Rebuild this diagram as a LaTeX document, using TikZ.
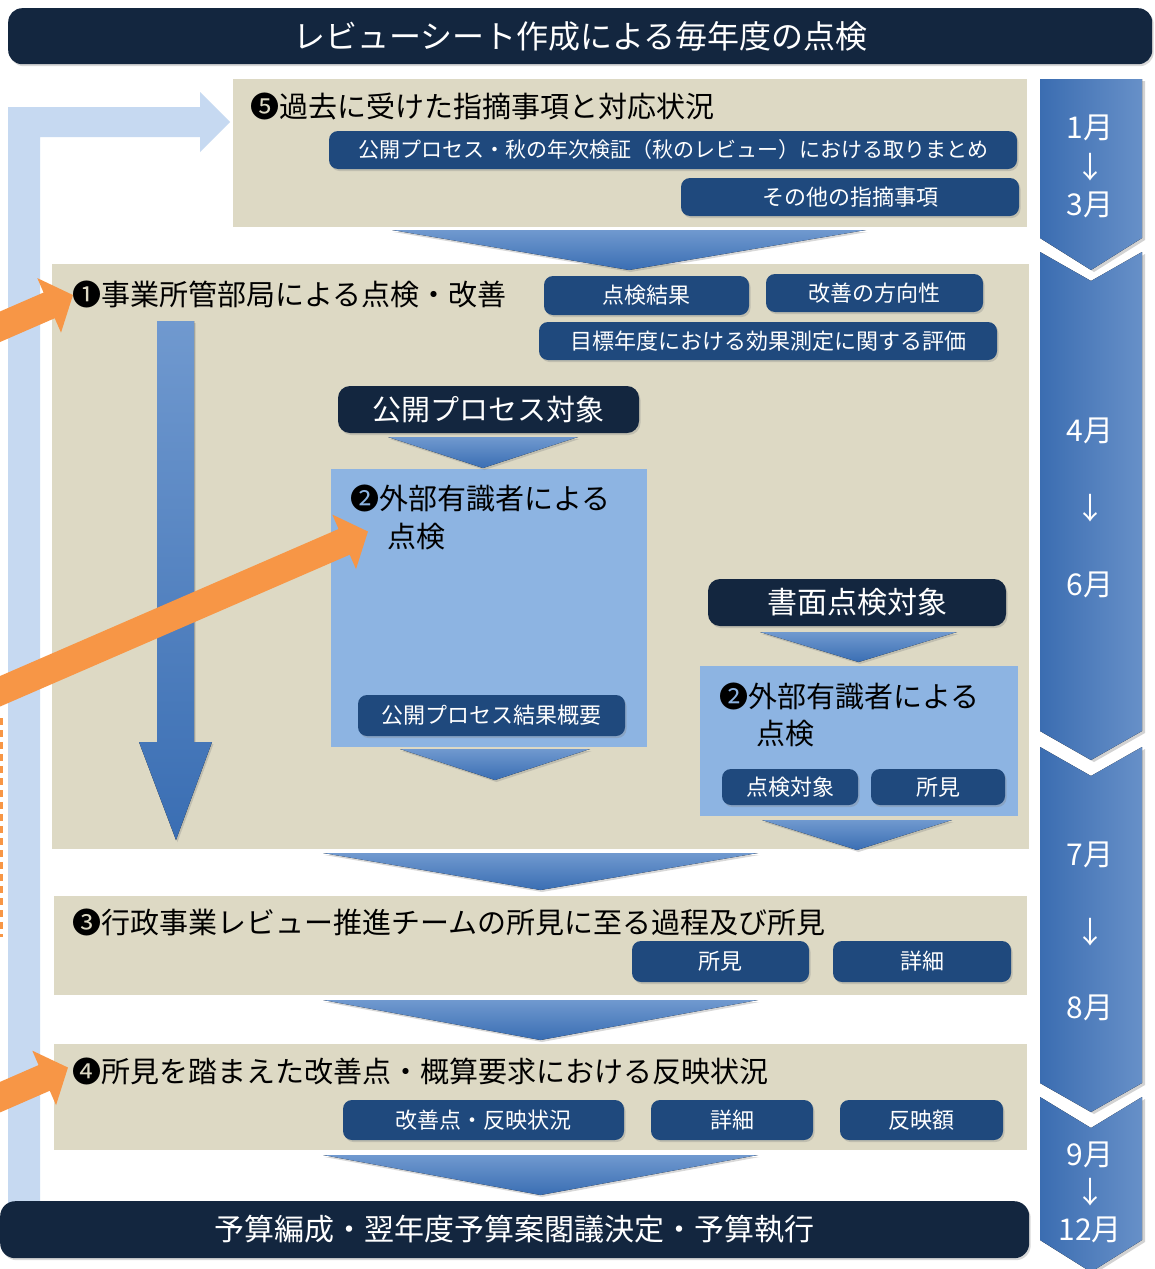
\documentclass[tikz,border=0pt]{standalone}
\usepackage{fontspec}
\setmainfont{Noto Sans CJK JP}
\usetikzlibrary{arrows.meta,shadows,calc}
\definecolor{navy}{HTML}{13263F}
\definecolor{beige}{HTML}{DDD9C4}
\definecolor{btnblue}{HTML}{1F497D}
\definecolor{lbox}{HTML}{8DB4E2}
\definecolor{lband}{HTML}{C6D9F1}
\definecolor{orng}{HTML}{F79646}
\definecolor{chtop}{HTML}{7099CF}
\definecolor{chbot}{HTML}{3A6EB3}
\definecolor{tlleft}{HTML}{3B6DB1}
\definecolor{tlright}{HTML}{6790C8}
\newcommand\myfs[1]{\fontsize{#1}{#1}\selectfont}
\newcommand\flowtri[4]{%
  \fill[flowfill] (#1,#3) -- (#2,#3) -- ({(#1+#2)/2},#4) -- cycle;}
\tikzset{
  shd/.style={drop shadow={opacity=0.3,shadow xshift=1.5pt,shadow yshift=-2pt}},
  panel/.style={fill=beige, inner sep=0pt, anchor=north west},
  lightbox/.style={fill=lbox, inner sep=0pt, anchor=north west},
  navybox/.style={fill=navy, rounded corners=12pt, text=white, inner sep=0pt, shd},
  btnbox/.style={fill=btnblue, rounded corners=9pt, text=white, inner sep=0pt, font=\myfs{22}, shd},
  ttl/.style={anchor=west, inner sep=0pt, text=black, font=\myfs{29}},
  month/.style={text=white, inner sep=0pt, font=\myfs{30}},
  flowfill/.style={top color=chtop, bottom color=chbot, shd},
  tlseg/.style={left color=tlleft, right color=tlright, drop shadow={opacity=0.35,shadow xshift=3pt,shadow yshift=-2pt}},
  orarrow/.style={draw=orng, line width=28pt, -{Triangle[length=26pt,width=58pt]}, orng},
}
\begin{document}
\begin{tikzpicture}[x=1pt,y=-1pt]
\clip (0,0) rectangle (1155,1269);
\fill[white] (0,0) rectangle (1155,1269);

% light blue feedback band
\fill[lband] (8,1205) -- (8,107) -- (200,107) -- (200,92) -- (230,122) -- (200,152) -- (200,137) -- (40,137) -- (40,1205) -- cycle;

% title bar
\node[navybox, rounded corners=14pt, anchor=north west, minimum width=1144pt, minimum height=56pt, font=\myfs{32}] (title) at (8,8) {レビューシート作成による毎年度の点検};

% timeline
\fill[tlseg] (1040,79) -- (1142,79) -- (1142,238) -- (1091,270) -- (1040,238) -- cycle;
\fill[tlseg] (1040,252) -- (1091,281) -- (1142,252) -- (1142,731) -- (1091,760) -- (1040,731) -- cycle;
\fill[tlseg] (1040,747) -- (1091,776) -- (1142,747) -- (1142,1083) -- (1091,1112) -- (1040,1083) -- cycle;
\fill[tlseg] (1040,1097) -- (1091,1128) -- (1142,1097) -- (1142,1240) -- (1091,1272) -- (1040,1240) -- cycle;
\node[month] (m1) at (1090,128) {1月};
\node[month] (m1a) at (1090,167) {↓};
\node[month] (m3) at (1090,205) {3月};
\node[month] (m4) at (1090,431) {4月};
\node[month] (m4a) at (1090,508) {↓};
\node[month] (m6) at (1090,585) {6月};
\node[month] (m7) at (1090,855) {7月};
\node[month] (m7a) at (1090,932) {↓};
\node[month] (m8) at (1090,1008) {8月};
\node[month] (m9) at (1090,1155) {9月};
\node[month] (m9a) at (1090,1192) {↓};
\node[month] (m12) at (1090,1230) {12月};

% panel 5
\node[panel, minimum width=794pt, minimum height=148pt] (p5) at (233,79) {};
\node[ttl] (t5) at (250,107) {❺過去に受けた指摘事項と対応状況};
\node[btnbox, minimum width=688pt, minimum height=38pt, font=\myfs{21}] (b51) at (673,150) {公開プロセス・秋の年次検証（秋のレビュー）における取りまとめ};
\node[btnbox, minimum width=338pt, minimum height=38pt] (b52) at (850,197) {その他の指摘事項};

% panel 1
\node[panel, minimum width=977pt, minimum height=585pt] (p1) at (52,264) {};
\flowtri{392}{866}{230}{270}
\node[ttl] (t1) at (72,294) {❶事業所管部局による点検・改善};
\node[btnbox, minimum width=205pt, minimum height=39pt] (b11) at (646.5,295.5) {点検結果};
\node[btnbox, minimum width=217pt, minimum height=38pt] (b12) at (874.5,293) {改善の方向性};
\node[btnbox, minimum width=458pt, minimum height=38pt] (b13) at (768,341) {目標年度における効果測定に関する評価};

% big blue down arrow
\fill[top color=chtop, bottom color=chbot, shd] (157,321) -- (194,321) -- (194,742) -- (212,742) -- (176,840) -- (139,742) -- (157,742) -- cycle;

% public process branch
\node[navybox, minimum width=301pt, minimum height=47pt, font=\myfs{29}] (pub) at (488.5,409.5) {公開プロセス対象};
\node[lightbox, minimum width=316pt, minimum height=278pt] (lb1) at (331,469) {};
\flowtri{388}{578}{437}{468}
\node[ttl] (t2a) at (350,498) {❷外部有識者による};
\node[ttl] (t2b) at (387,537) {点検};
\node[btnbox, minimum width=267pt, minimum height=41pt] (b2) at (491.5,715.5) {公開プロセス結果概要};
\flowtri{400}{590}{749}{780}

% document check branch
\node[navybox, minimum width=298pt, minimum height=47pt, font=\myfs{30}] (doc) at (857,602.5) {書面点検対象};
\node[lightbox, minimum width=318pt, minimum height=150pt] (lb2) at (700,666) {};
\flowtri{760}{957}{632}{662}
\node[ttl] (t2c) at (719,696) {❷外部有識者による};
\node[ttl] (t2d) at (756,734) {点検};
\node[btnbox, minimum width=136pt, minimum height=36pt] (b21) at (790,787) {点検対象};
\node[btnbox, minimum width=134pt, minimum height=36pt] (b22) at (938,787) {所見};
\flowtri{762}{952}{820}{850}

% panel 3
\flowtri{323}{758}{853}{890}
\node[panel, minimum width=973pt, minimum height=99pt] (p3) at (54,896) {};
\node[ttl] (t3) at (72,922) {❸行政事業レビュー推進チームの所見に至る過程及び所見};
\node[btnbox, minimum width=177pt, minimum height=41pt] (b31) at (720.5,961.5) {所見};
\node[btnbox, minimum width=178pt, minimum height=41pt] (b32) at (922,961.5) {詳細};

% panel 4
\flowtri{323}{758}{1000}{1040}
\node[panel, minimum width=973pt, minimum height=106pt] (p4) at (54,1044) {};
\node[ttl] (t4) at (72,1071) {❹所見を踏まえた改善点・概算要求における反映状況};
\node[btnbox, minimum width=281pt, minimum height=40pt] (b41) at (483.5,1120) {改善点・反映状況};
\node[btnbox, minimum width=162pt, minimum height=40pt] (b42) at (732,1120) {詳細};
\node[btnbox, minimum width=163pt, minimum height=40pt] (b43) at (921.5,1120) {反映額};

% bottom bar
\flowtri{323}{758}{1155}{1195}
\node[navybox, rounded corners=15pt, anchor=north west, minimum width=1029pt, minimum height=57pt, font=\myfs{30}] (bottom) at (0,1201) {予算編成・翌年度予算案閣議決定・予算執行};

% orange arrows from outside
\coordinate (oa1) at (-50,348.5);
\coordinate (oa2) at (73,295);
\coordinate (ob1) at (-50,713);
\coordinate (ob2) at (368,531.5);
\coordinate (oc1) at (-50,1119);
\coordinate (oc2) at (68,1067.5);
\draw[orarrow] (oa1) -- (oa2);
\draw[orarrow] (ob1) -- (ob2);
\draw[orarrow] (oc1) -- (oc2);

% dashed orange edge
\coordinate (d1) at (1.5,718);
\coordinate (d2) at (1.5,937);
\draw[orng, line width=3pt, dash pattern=on 7pt off 5pt] (d1) -- (d2);
\end{tikzpicture}
\end{document}
